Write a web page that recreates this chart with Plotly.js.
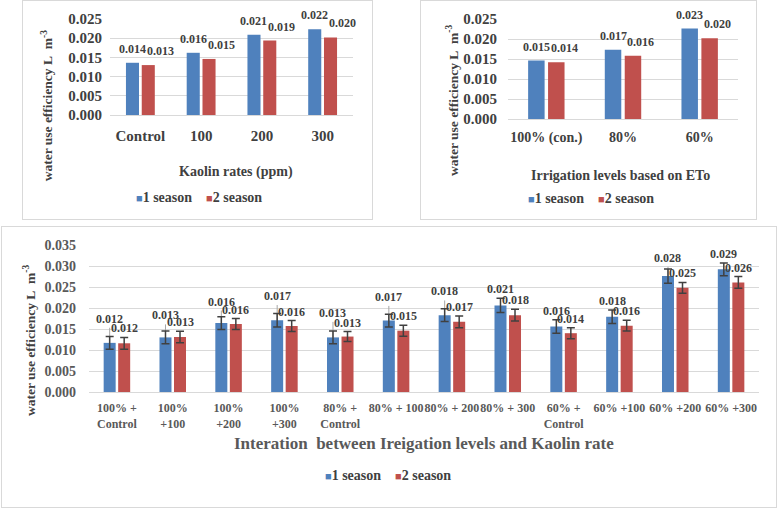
<!DOCTYPE html>
<html><head><meta charset="utf-8">
<script src="https://cdn.plot.ly/plotly-3.0.1.min.js"></script>
<style>
body{margin:0;background:#fff;width:779px;height:510px;position:relative;overflow:hidden}
.box{position:absolute;border:1px solid #D9D9D9;box-sizing:border-box;background:#fff}
.plot{position:absolute}
</style></head><body>
<div class="box" style="left:22px;top:0;width:351px;height:220px"></div>
<div class="box" style="left:420px;top:0;width:337px;height:220px"></div>
<div class="box" style="left:1px;top:226px;width:776px;height:282px"></div>
<div id="c1" class="plot" style="left:22px;top:0;width:351px;height:220px"></div>
<div id="c2" class="plot" style="left:420px;top:0;width:337px;height:220px"></div>
<div id="c3" class="plot" style="left:1px;top:226px;width:776px;height:282px"></div>
<script>
// ---- data ----
const seriesNames = ['1 season', '2 season'];

const kaolinCats = ['Control', '100', '200', '300'];
const kaolinS1 = [0.0136, 0.0162, 0.0209, 0.0223];
const kaolinS2 = [0.0130, 0.0146, 0.0194, 0.0202];

const irrCats = ['100% (con.)', '80%', '60%'];
const irrS1 = [0.0146, 0.0173, 0.0226];
const irrS2 = [0.0142, 0.0158, 0.0202];

const interCats = ['100% +<br>Control', '100%<br>+100', '100%<br>+200', '100%<br>+300',
  '80% +<br>Control', '80% + 100', '80% + 200', '80% + 300',
  '60% +<br>Control', '60% +100', '60% +200', '60% +300'];
const interS1 = [0.0117, 0.0130, 0.0164, 0.0171, 0.0130, 0.0170, 0.0183, 0.0206, 0.0156, 0.0179, 0.0276, 0.0292];
const interS2 = [0.0116, 0.0131, 0.0162, 0.0157, 0.0132, 0.0146, 0.0167, 0.0183, 0.0140, 0.0158, 0.0248, 0.0261];
const interErr1 = [0.0015, 0.0015, 0.0015, 0.0016, 0.0015, 0.0015, 0.0015, 0.0017, 0.0016, 0.0016, 0.0017, 0.0015];
const interErr2 = [0.0014, 0.00135, 0.0013, 0.0013, 0.0012, 0.0013, 0.0014, 0.0014, 0.0013, 0.0013, 0.0013, 0.0014];
const interLight1 = [0.0036, 0.0031, 0.0030, 0.0036, 0.0037, 0.0035, 0.0035, 0, 0, 0, 0.0022, 0];

// ---- style ----
const BLUE = '#4F81BD', RED = '#C0504D';
const FONT = '"Liberation Serif", "Times New Roman", serif';
const OFF1 = -0.2375, OFF2 = 0.0225, BW = 0.215;
const YTITLE = 'water use efficiency L\u00A0\u00A0m<sup>-3</sup>';

function build(id, c) {
  const n = c.cats.length;
  const traces = [];
  if (c.light1) {
    traces.push({type: 'bar', x: c.cats, y: c.s1, offset: OFF1, width: BW,
      marker: {color: 'rgba(0,0,0,0)'}, showlegend: false, hoverinfo: 'skip',
      error_y: {type: 'data', symmetric: false, array: c.light1, arrayminus: c.light1.map(() => 0),
        color: '#A6A6A6', thickness: 1, width: 0}});
  }
  const mk = (vals, color, off, err, name) => {
    const t = {type: 'bar', name: name, x: c.cats, y: vals, offset: off, width: BW,
      marker: {color: color}, showlegend: false};
    if (err) t.error_y = {type: 'data', array: err, color: '#404040', thickness: 1.5, width: 4};
    return t;
  };
  traces.push(mk(c.s1, BLUE, OFF1, c.err1, seriesNames[0]));
  traces.push(mk(c.s2, RED, OFF2, c.err2, seriesNames[1]));

  const ann = [];
  const labFont = {family: FONT, size: 12, color: '#404040', weight: 'bold'};
  [[c.s1, OFF1, c.err1, c.light1, 0], [c.s2, OFF2, c.err2, null, c.redShift]].forEach(([vals, off, err, light, xs]) => {
    vals.forEach((v, i) => {
      let top = v;
      if (err) top = v + Math.max(err[i], light ? light[i] : 0);
      ann.push({x: i + off + BW / 2, y: top, xref: 'x', yref: 'y', text: v.toFixed(3),
        showarrow: false, yanchor: 'middle', yshift: err ? 9 : 14, xshift: xs, font: labFont});
    });
  });
  // axis title
  ann.push({xref: 'paper', yref: 'paper', x: c.xTitleX, y: 0, yshift: -c.xTitleShift,
    yanchor: 'middle', xanchor: 'center', showarrow: false, text: c.xTitle,
    font: {family: FONT, size: c.xTitleSize, color: c.xTitleColor, weight: 'bold'}});
  // y title
  ann.push({xref: 'paper', yref: 'paper', x: 0, xshift: -c.yTitleShift, y: c.yTitleY,
    xanchor: 'center', yanchor: 'middle', textangle: -90, showarrow: false, text: YTITLE,
    font: {family: FONT, size: 13.5, color: '#404040', weight: 'bold'}});
  // legend
  ann.push({xref: 'paper', yref: 'paper', x: c.legendX, y: 0, yshift: -c.legendShift,
    xanchor: 'center', yanchor: 'middle', showarrow: false,
    text: '<span style="color:' + BLUE + ';font-size:11px">\u25A0</span>' + seriesNames[0] +
      '\u00A0\u00A0\u00A0\u00A0<span style="color:' + RED + ';font-size:11px">\u25A0</span>' + seriesNames[1],
    font: {family: FONT, size: 14, color: '#404040', weight: 'bold'}});

  const layout = {
    width: c.W, height: c.H, margin: c.m,
    paper_bgcolor: 'rgba(0,0,0,0)', plot_bgcolor: 'rgba(0,0,0,0)',
    barmode: 'overlay', showlegend: false,
    xaxis: {type: 'category', range: [-0.5, n - 0.5], showgrid: false, zeroline: false,
      showline: true, linecolor: '#D9D9D9', linewidth: 1, ticks: '', fixedrange: true,
      tickangle: 0, automargin: false,
      ticklabelstandoff: c.xStand,
      tickfont: {family: FONT, size: c.xTickSize, color: c.tickColor, weight: 'bold'}},
    yaxis: {range: [0, c.yMax], dtick: 0.005, tick0: 0, tickformat: '.3f', showgrid: true,
      gridcolor: '#D9D9D9', gridwidth: 1, zeroline: false, showline: false, ticks: '',
      ticklabelstandoff: c.yStand, fixedrange: true, automargin: false,
      tickfont: {family: FONT, size: c.yTickSize, color: c.tickColor, weight: 'bold'}},
    annotations: ann
  };
  Plotly.newPlot(id, traces, layout, {displayModeBar: false, staticPlot: true});
}

build('c1', {W: 351, H: 220, m: {l: 88, r: 20, t: 19, b: 105, pad: 0},
  cats: kaolinCats, s1: kaolinS1, s2: kaolinS2, yMax: 0.025, redShift: 12,
  xTickSize: 15, yTickSize: 15, tickColor: '#404040', xStand: 7, yStand: 7,
  xTitle: 'Kaolin rates (ppm)', xTitleSize: 14, xTitleColor: '#404040', xTitleX: 0.52, xTitleShift: 57,
  legendX: 0.366, legendShift: 82, yTitleShift: 63, yTitleY: 0.09});

build('c2', {W: 337, H: 220, m: {l: 88, r: 19, t: 19, b: 101, pad: 0},
  cats: irrCats, s1: irrS1, s2: irrS2, yMax: 0.025, redShift: 8,
  xTickSize: 14, yTickSize: 15, tickColor: '#404040', xStand: 5, yStand: 10,
  xTitle: 'Irrigation levels based on ETo', xTitleSize: 14, xTitleColor: '#404040', xTitleX: 0.487, xTitleShift: 56,
  legendX: 0.36, legendShift: 79, yTitleShift: 56, yTitleY: 0.18});

build('c3', {W: 776, H: 282, m: {l: 88, r: 18, t: 19, b: 116, pad: 0},
  cats: interCats, s1: interS1, s2: interS2, err1: interErr1, err2: interErr2, light1: interLight1,
  redShift: 0, yMax: 0.035, xTickSize: 12, yTickSize: 14, tickColor: '#595959', xStand: 5, yStand: 12,
  xTitle: 'Interation \u00A0between Ireigation levels and Kaolin rate', xTitleSize: 17, xTitleColor: '#595959',
  xTitleX: 0.5, xTitleShift: 51, legendX: 0.446, legendShift: 83, yTitleShift: 59, yTitleY: 0.347});
</script>
</body></html>
